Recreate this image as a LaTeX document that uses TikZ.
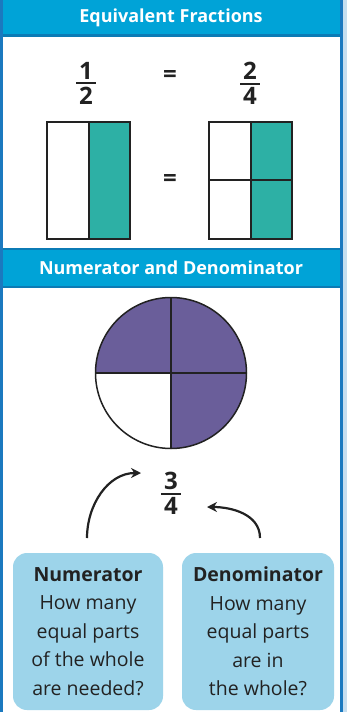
\documentclass[tikz,border=0pt]{standalone}
\usepackage{fontspec}
\setmainfont{Open Sans}
\usetikzlibrary{arrows.meta,positioning,shapes}

\definecolor{headblue}{RGB}{0,163,215}
\definecolor{headline}{RGB}{11,123,181}
\definecolor{framecol}{RGB}{27,121,191}
\definecolor{tealpart}{RGB}{45,176,165}
\definecolor{purplepart}{RGB}{106,94,154}
\definecolor{boxblue}{RGB}{157,212,234}
\definecolor{inkcol}{RGB}{34,34,34}

\newcommand{\stackfrac}[2]{\vbox{\offinterlineskip\halign{\hfil##\hfil\cr
  #1\cr\noalign{\kern3pt}\rule{20pt}{2.2pt}\cr\noalign{\kern3pt}#2\cr}}}

\tikzset{
  headtext/.style={text=white,font=\fontsize{18}{20}\selectfont\bfseries},
  fracnum/.style={text=inkcol,font=\fontsize{24}{24}\selectfont\bfseries,inner sep=0pt},
  part/.style={draw=inkcol,line width=1.5pt},
  infobox/.style={fill=boxblue,rounded corners=14pt,minimum width=150pt,minimum height=157pt},
  infotext/.style={text=inkcol,align=center,font=\fontsize{19.5}{28.5}\selectfont},
  pointer/.style={-{Stealth[length=10pt,width=10pt]},line width=2.2pt,inkcol}
}

\begin{document}
\begin{tikzpicture}[x=1pt,y=-1pt]
\useasboundingbox (0,0) rectangle (347,712);
\fill[white] (0,0) rectangle (347,712);
\fill[framecol!25] (343,0) rectangle (347,712);

% header bars
\fill[headblue] (3,0) rectangle (340,36);
\draw[headline,line width=2.5pt] (3,35.5) -- (340,35.5);
\node[headtext] (title1) at (171,18) {Equivalent Fractions};
\fill[headblue] (3,249) rectangle (340,287);
\draw[headline,line width=2.5pt] (3,249) -- (340,249);
\draw[headline,line width=2.5pt] (3,287) -- (340,287);
\node[headtext] (title2) at (171,268) {Numerator and Denominator};

% fractions
\node[fracnum] (half) at (86,83.5) {\stackfrac{1}{2}};
\node[fracnum] (eq1) at (170,76) {=};
\node[fracnum] (quarters) at (250,83.5) {\stackfrac{2}{4}};

% bars
\fill[tealpart] (89,122) rectangle (130,239);
\draw[part] (47,122) rectangle (130,239);
\draw[part] (89,122) -- (89,239);
\node[fracnum] (eq2) at (170,180) {=};
\fill[tealpart] (251,122) rectangle (292,239);
\draw[part] (209,122) rectangle (292,239);
\draw[part] (251,122) -- (251,239);
\draw[part] (209,180) -- (292,180);

% pie
\node[circle,fill=purplepart,minimum size=151pt,inner sep=0pt] (pie) at (171,373) {};
\fill[white] (pie.center) -- (pie.west) arc[start angle=180,end angle=270,radius=75.5pt] -- cycle;
\draw[part] (pie.north) -- (pie.south);
\draw[part] (pie.west) -- (pie.east);
\draw[part] (pie) circle[radius=75.5pt];

\node[fracnum] (threeq) at (171,493.5) {\stackfrac{3}{4}};

% info boxes
\node[infobox] (numbox) at (88,631.5) {};
\node[infobox,minimum width=152pt] (denbox) at (258,631.5) {};
\node[infotext] (numtext) at (numbox.center) {\textbf{Numerator}\\How many\\equal parts\\of the whole\\are needed?};
\node[infotext] (dentext) at (denbox.center) {\textbf{Denominator}\\How many\\equal parts\\are in\\the whole?};

% arrows
\coordinate (numtail) at (87,538);
\coordinate (numtip) at (141,473);
\coordinate (dentail) at (260,538);
\coordinate (dentip) at (207,507);
\draw[pointer] (numtail) to[out=90,in=180] (numtip);
\draw[pointer] (dentail) to[out=90,in=0] (dentip);

% frame
\draw[framecol,line width=3pt] (1.5,-2) -- (1.5,714);
\draw[framecol,line width=3pt] (341.5,-2) -- (341.5,714);
\end{tikzpicture}
\end{document}
